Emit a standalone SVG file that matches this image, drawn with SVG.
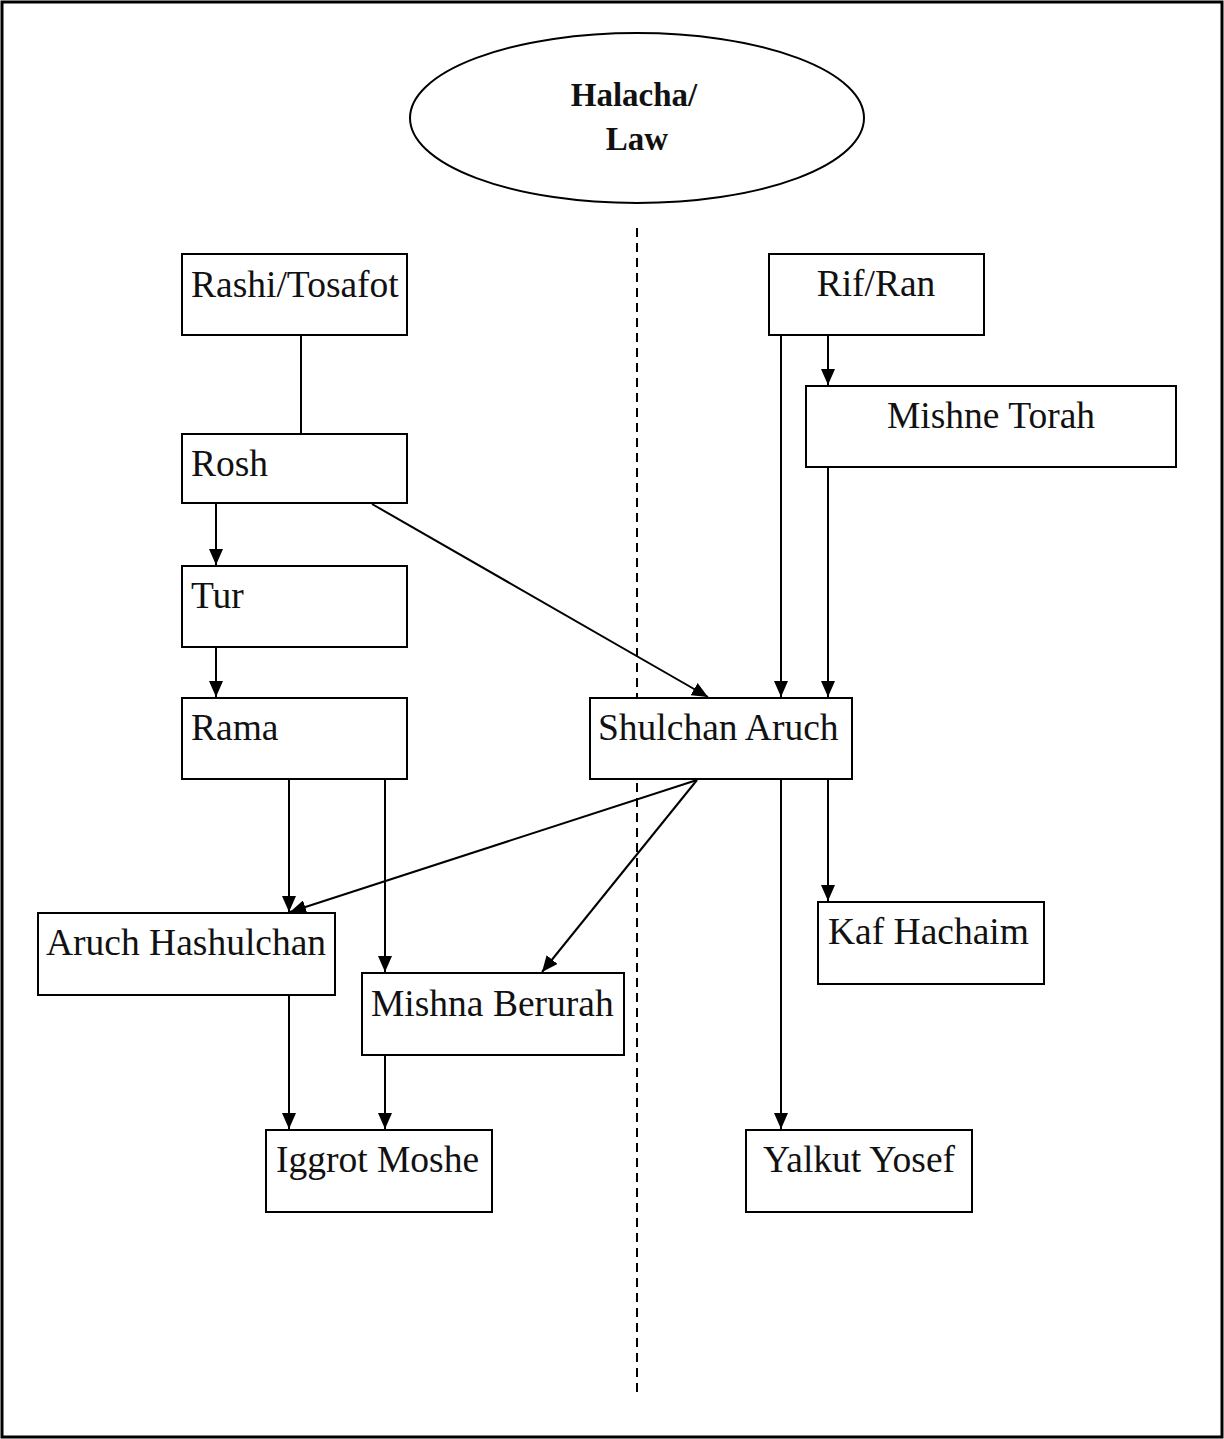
<svg xmlns="http://www.w3.org/2000/svg" width="1224" height="1439" viewBox="0 0 1224 1439">
<defs>
<marker id="arr" markerWidth="16" markerHeight="14" refX="16" refY="7" orient="auto" markerUnits="userSpaceOnUse" viewBox="0 0 16 14">
<path d="M0,0 L16,7 L0,14 Z" fill="#000"/>
</marker>
<style>
.box{fill:#fff;stroke:#000;stroke-width:2}
.t{font-family:"Liberation Serif","DejaVu Serif",serif;font-size:37.5px;fill:#111}
.tc{text-anchor:middle}
.b{font-weight:bold;font-size:33px}
.c{stroke:#000;stroke-width:2;fill:none}
.ca{stroke:#000;stroke-width:2;fill:none;marker-end:url(#arr)}
</style>
</defs>
<rect x="2" y="2" width="1220" height="1435" fill="#fff" stroke="#000" stroke-width="3"/>
<line x1="637" y1="228" x2="637" y2="1392" stroke="#000" stroke-width="2" stroke-dasharray="9,6"/>
<g id="connectors">
<line class="c" x1="301" y1="335" x2="301" y2="434"/>
<line class="ca" x1="216" y1="503" x2="216" y2="565"/>
<line class="ca" x1="216" y1="647" x2="216" y2="697"/>
<line class="ca" x1="372" y1="504" x2="708" y2="697"/>
<line class="ca" x1="828" y1="335" x2="828" y2="385"/>
<line class="ca" x1="781" y1="335" x2="781" y2="697"/>
<line class="ca" x1="828" y1="467" x2="828" y2="697"/>
<line class="ca" x1="289" y1="779" x2="289" y2="912"/>
<line class="ca" x1="385" y1="779" x2="385" y2="972"/>
<line class="ca" x1="697" y1="780" x2="290" y2="912"/>
<line class="ca" x1="697" y1="780" x2="542" y2="972"/>
<line class="ca" x1="828" y1="779" x2="828" y2="901"/>
<line class="ca" x1="781" y1="779" x2="781" y2="1129"/>
<line class="ca" x1="289" y1="995" x2="289" y2="1129"/>
<line class="ca" x1="385" y1="1055" x2="385" y2="1129"/>
</g>
<g id="halacha">
<ellipse cx="637" cy="118" rx="227" ry="85" fill="#fff" stroke="#000" stroke-width="2"/>
<text class="t tc b" x="634" y="106">Halacha/</text>
<text class="t tc b" x="637" y="150">Law</text>
</g>
<g id="rashi"><rect class="box" x="182" y="254" width="225" height="81"/><text class="t" x="191" y="297">Rashi/Tosafot</text></g>
<g id="rosh"><rect class="box" x="182" y="434" width="225" height="69"/><text class="t" x="191" y="476">Rosh</text></g>
<g id="tur"><rect class="box" x="182" y="566" width="225" height="81"/><text class="t" x="191" y="608">Tur</text></g>
<g id="rama"><rect class="box" x="182" y="698" width="225" height="81"/><text class="t" x="191" y="740">Rama</text></g>
<g id="aruch-hashulchan"><rect class="box" x="38" y="913" width="297" height="82"/><text class="t" x="46" y="955">Aruch Hashulchan</text></g>
<g id="mishna-berurah"><rect class="box" x="362" y="973" width="262" height="82"/><text class="t" x="371" y="1016">Mishna Berurah</text></g>
<g id="iggrot-moshe"><rect class="box" x="266" y="1130" width="226" height="82"/><text class="t" x="276" y="1172">Iggrot Moshe</text></g>
<g id="rif-ran"><rect class="box" x="769" y="254" width="215" height="81"/><text class="t tc" x="876" y="296">Rif/Ran</text></g>
<g id="mishne-torah"><rect class="box" x="806" y="386" width="370" height="81"/><text class="t tc" x="991" y="428">Mishne Torah</text></g>
<g id="shulchan-aruch"><rect class="box" x="590" y="698" width="262" height="81"/><text class="t" x="598" y="740">Shulchan Aruch</text></g>
<g id="kaf-hachaim"><rect class="box" x="818" y="902" width="226" height="82"/><text class="t" x="828" y="944">Kaf Hachaim</text></g>
<g id="yalkut-yosef"><rect class="box" x="746" y="1130" width="226" height="82"/><text class="t tc" x="859" y="1172">Yalkut Yosef</text></g>
</svg>
